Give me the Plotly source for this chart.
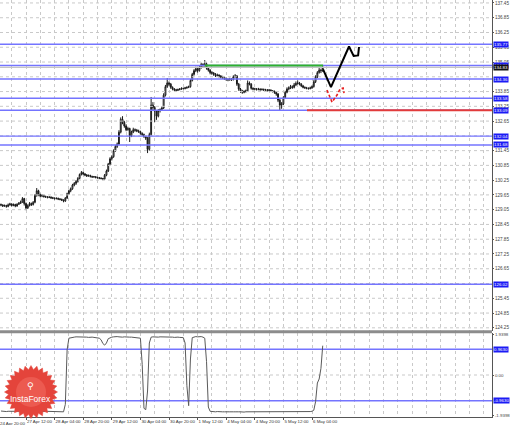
import numpy as np
import plotly.graph_objects as go

# ---------------- data ----------------
bar_index = list(range(2, 183))

opens = [129.26,129.24,129.20,129.22,129.18,129.25,129.28,129.22,129.26,129.20,
         129.27,129.31,129.36,129.50,129.30,129.12,129.22,129.30,129.26,129.35,
         129.62,129.82,129.66,129.60,129.63,129.58,129.57,129.55,129.56,129.53,
         129.52,129.50,129.51,129.48,129.47,129.44,129.40,129.52,129.70,129.82,
         129.90,130.05,130.12,130.20,130.32,130.48,130.56,130.50,130.46,130.42,
         130.44,130.40,130.38,130.39,130.36,130.35,130.33,130.32,130.30,130.45,
         130.62,130.90,131.12,131.20,131.45,131.62,131.72,132.20,132.72,132.60,
         132.45,132.30,132.35,132.05,132.20,132.30,132.28,132.25,132.22,132.15,
         132.10,132.02,131.95,131.50,132.10,133.30,133.20,133.05,132.85,133.08,
         133.12,133.18,133.70,134.05,134.20,134.15,134.02,133.95,133.92,133.90,
         133.93,133.95,133.98,133.97,134.00,134.02,134.05,134.30,134.55,134.70,
         134.78,134.70,134.82,134.95,134.90,134.98,134.80,134.72,134.62,134.60,
         134.55,134.50,134.52,134.48,134.45,134.42,134.38,134.35,134.33,134.36,
         134.34,134.45,134.48,134.15,133.95,133.88,133.82,133.85,133.88,134.20,
         134.15,133.98,133.95,133.96,133.94,133.95,133.93,133.94,133.92,133.92,
         133.90,133.91,133.88,133.86,133.82,133.75,133.50,133.30,133.35,133.60,
         133.82,133.95,134.00,134.05,134.02,134.12,134.18,134.20,134.15,134.08,
         134.02,134.00,133.98,133.97,134.00,134.05,134.25,134.45,134.62,134.72,134.70]
highs = [129.30,129.27,129.26,129.25,129.30,129.33,129.31,129.30,129.29,129.31,
         129.36,129.42,129.56,129.53,129.34,129.27,129.36,129.34,129.40,129.68,
         129.93,129.86,129.70,129.68,129.66,129.62,129.60,129.60,129.59,129.57,
         129.55,129.55,129.54,129.52,129.50,129.47,129.56,129.74,129.86,129.95,
         130.10,130.17,130.25,130.37,130.52,130.62,130.60,130.54,130.50,130.48,
         130.47,130.43,130.42,130.41,130.39,130.38,130.36,130.34,130.50,130.68,
         130.95,131.18,131.26,131.50,131.68,131.78,132.28,132.80,132.85,132.66,
         132.52,132.42,132.38,132.26,132.38,132.35,132.33,132.30,132.26,132.19,
         132.14,132.06,132.00,132.18,133.63,133.42,133.26,133.10,133.14,133.16,
         133.24,133.78,134.12,134.40,134.26,134.20,134.06,133.99,133.96,133.97,
         133.99,134.02,134.01,134.04,134.06,134.09,134.36,134.61,134.76,134.86,
         134.84,134.90,135.02,135.00,135.13,135.03,134.85,134.76,134.68,134.64,
         134.60,134.58,134.55,134.52,134.49,134.46,134.42,134.39,134.41,134.40,
         134.51,134.56,134.52,134.20,134.00,133.92,133.90,133.93,134.30,134.26,
         134.19,134.02,134.00,133.99,134.00,133.98,133.98,133.97,133.96,133.95,
         133.95,133.94,133.91,133.89,133.85,133.79,133.55,133.42,133.66,133.88,
         134.02,134.06,134.12,134.10,134.20,134.26,134.30,134.24,134.19,134.12,
         134.06,134.04,134.02,134.05,134.10,134.31,134.51,134.68,134.85,134.78,134.88]
lows = [129.19,129.16,129.17,129.13,129.15,129.21,129.18,129.19,129.15,129.17,
        129.24,129.28,129.33,129.22,129.03,129.08,129.18,129.20,129.22,129.31,
        129.58,129.60,129.55,129.56,129.54,129.53,129.51,129.52,129.49,129.48,
        129.46,129.47,129.44,129.43,129.40,129.35,129.37,129.49,129.66,129.76,
        129.86,130.00,130.06,130.15,130.28,130.44,130.45,130.41,130.38,130.39,
        130.36,130.34,130.35,130.32,130.31,130.29,130.28,130.25,130.27,130.41,
        130.58,130.86,131.05,131.16,131.40,131.56,131.68,132.15,132.52,132.38,
        132.24,132.26,131.80,132.00,132.16,132.22,132.20,132.17,132.10,132.05,
        131.97,131.88,131.35,131.45,132.05,133.10,132.61,132.70,132.80,133.00,
        133.06,133.14,133.65,134.00,134.08,133.96,133.90,133.87,133.85,133.87,
        133.90,133.92,133.93,133.94,133.96,133.99,134.01,134.26,134.50,134.64,
        134.62,134.66,134.78,134.82,134.86,134.74,134.66,134.55,134.54,134.49,
        134.44,134.46,134.42,134.39,134.36,134.32,134.29,134.27,134.29,134.28,
        134.30,134.41,134.08,133.88,133.80,133.76,133.78,133.81,133.84,134.10,
        133.93,133.90,133.91,133.89,133.90,133.88,133.89,133.87,133.88,133.85,
        133.86,133.83,133.81,133.76,133.68,133.42,133.09,133.15,133.30,133.55,
        133.78,133.90,133.95,133.96,133.98,134.07,134.13,134.10,134.03,133.98,
        133.96,133.94,133.93,133.94,133.96,134.01,134.20,134.40,134.58,134.60,134.65]
closes = [129.24,129.20,129.22,129.18,129.25,129.28,129.22,129.26,129.20,129.27,
          129.31,129.36,129.50,129.30,129.12,129.22,129.30,129.26,129.35,129.62,
          129.82,129.66,129.60,129.63,129.58,129.57,129.55,129.56,129.53,129.52,
          129.50,129.51,129.48,129.47,129.44,129.40,129.52,129.70,129.82,129.90,
          130.05,130.12,130.20,130.32,130.48,130.56,130.50,130.46,130.42,130.44,
          130.40,130.38,130.39,130.36,130.35,130.33,130.32,130.30,130.45,130.62,
          130.90,131.12,131.20,131.45,131.62,131.72,132.20,132.72,132.60,132.45,
          132.30,132.35,132.05,132.20,132.30,132.28,132.25,132.22,132.15,132.10,
          132.02,131.95,131.50,132.10,133.30,133.20,133.05,132.85,133.08,133.12,
          133.18,133.70,134.05,134.20,134.15,134.02,133.95,133.92,133.90,133.93,
          133.95,133.98,133.97,134.00,134.02,134.05,134.30,134.55,134.70,134.78,
          134.70,134.82,134.95,134.90,134.98,134.80,134.72,134.62,134.60,134.55,
          134.50,134.52,134.48,134.45,134.42,134.38,134.35,134.33,134.36,134.34,
          134.45,134.48,134.15,133.95,133.88,133.82,133.85,133.88,134.20,134.15,
          133.98,133.95,133.96,133.94,133.95,133.93,133.94,133.92,133.92,133.90,
          133.91,133.88,133.86,133.82,133.75,133.50,133.30,133.35,133.60,133.82,
          133.95,134.00,134.05,134.02,134.12,134.18,134.20,134.15,134.08,134.02,
          134.00,133.98,133.97,134.00,134.05,134.25,134.45,134.62,134.72,134.70,134.83]

indicator = [-1.35,-1.36,-1.36,-1.37,-1.36,-1.36,-1.37,-1.37,-1.36,-1.36,
             -1.37,-1.36,-1.35,-1.36,-1.38,-1.37,-1.36,-1.36,-1.36,-1.35,
             -1.34,-1.35,-1.36,-1.36,-1.37,-1.36,-1.36,-1.37,-1.37,-1.36,
             -1.37,-1.37,-1.38,-1.37,-1.37,-1.38,
             -1.10, 0.95, 1.38,
             1.40,1.41,1.42,1.43,1.43,1.44,1.43,1.42,1.42,1.42,1.41,1.42,1.42,1.41,1.40,1.40,1.38,
             1.32,1.18,1.12,1.20,1.36,
             1.40,1.42,1.43,1.44,1.44,1.43,1.42,1.42,1.43,1.42,1.41,1.42,1.42,1.41,1.41,1.40,1.40,1.38,
             0.40,-1.25,-1.30,-0.60,1.20,
             1.42,1.43,1.42,1.41,1.42,1.43,1.43,1.42,1.44,1.44,1.43,1.42,1.42,1.41,1.42,1.42,1.41,1.41,1.40,
             1.20,-0.40,-1.15,0.60,
             1.40,1.43,1.44,1.43,1.44,1.44,1.42,
             1.38,0.50,-1.20,
             -1.36,-1.37,-1.38,-1.38,-1.37,-1.38,-1.39,-1.38,-1.38,-1.37,
             -1.38,-1.38,-1.39,-1.38,-1.38,-1.37,-1.38,-1.38,-1.39,-1.39,
             -1.38,-1.38,-1.37,-1.38,-1.38,-1.38,-1.39,-1.38,-1.38,-1.38,
             -1.37,-1.38,-1.38,-1.39,-1.39,-1.38,-1.38,-1.38,-1.37,-1.38,
             -1.38,-1.38,-1.39,-1.38,-1.38,-1.38,-1.37,-1.38,-1.38,-1.38,
             -1.38,-1.39,-1.38,-1.38,-1.38,-1.37,-1.37,-1.36,
             -1.32,-1.00,-0.30,-0.15,0.25,1.10]

price_ticks = [137.45, 136.85, 136.25, 135.65, 135.05, 133.85, 133.25,
               132.65, 131.45, 130.85, 130.25, 129.65, 129.05, 128.45,
               127.85, 127.25, 126.65, 125.45, 124.85, 124.25]
price_tick_text = ["137.45", "136.85", "136.25", "135.65", "135.05", "133.85", "133.25",
                   "132.65", "131.45", "130.85", "130.25", "129.65", "129.05", "128.45",
                   "127.85", "127.25", "126.65", "125.45", "124.85", "124.25"]
price_grid = [137.45, 136.85, 136.25, 135.65, 135.05, 134.45, 133.85, 133.25,
              132.65, 132.05, 131.45, 130.85, 130.25, 129.65, 129.05, 128.45,
              127.85, 127.25, 126.65, 126.05, 125.45, 124.85, 124.25]

time_tick_bars = [0, 16, 32, 48, 64, 80, 96, 112, 128, 144, 160, 176]
time_tick_text = ["24 Apr 20:00", "27 Apr 12:00", "28 Apr 04:00", "28 Apr 20:00", "29 Apr 12:00",
                  "30 Apr 04:00", "30 Apr 20:00", "1 May 12:00", "4 May 04:00", "4 May 20:00",
                  "5 May 12:00", "6 May 04:00"]

level_values = [135.77, 134.91, 134.36, 133.58, 133.09, 132.04, 131.68, 126.02]
level_text = ["135.77", "134.91", "134.36", "133.58", "133.09", "132.04", "131.68", "126.02"]
bid_value = 134.83
bid_text = "134.83"

green_x = [116, 182.2]
green_y = [134.91, 134.91]
red_x = [173.2, 276.7]
red_y = [133.09, 133.09]
black_path_x = [182.2, 186.6, 196.7, 199.3, 201.8, 202.3]
black_path_y = [134.75, 134.03, 135.68, 135.30, 135.32, 135.66]
red_path_x = [184.4, 187.2, 190.0, 191.7, 193.4, 193.9]
red_path_y = [133.91, 133.42, 133.71, 133.95, 133.99, 133.79]

ind_levels = [0.963, -0.963]
ind_level_text = ["0.9630", "-0.9630"]
ind_ticks = [1.52, 0.0, -1.52]
ind_tick_text = ["1.9398", "0.00", "-1.9398"]

assert len(opens) == len(highs) == len(lows) == len(closes) == len(bar_index) == len(indicator)

# ---------------- figure ----------------
X_RANGE = [1.45, 276.7]
Y_RANGE = [124.12, 137.57]
Y2_RANGE = [-1.574, 1.574]
MAIN_BOTTOM = 0.2062
IND_TOP = 0.2014
BLUE = "#7474ff"
BOX = "#1b1bf5"
GRID = "#c9c9c9"
FONT = "Liberation Sans"
PW, PH = 492.0, 417.0

fig = go.Figure()

for v in price_grid:
    fig.add_trace(go.Scatter(x=X_RANGE, y=[v, v], mode="lines",
                             line=dict(color=GRID, width=1, dash="dot"), hoverinfo="skip",
                             xaxis="x", yaxis="y"))

for v in level_values:
    fig.add_trace(go.Scatter(x=X_RANGE, y=[v, v], mode="lines",
                             line=dict(color=BLUE, width=1.4), hoverinfo="skip",
                             xaxis="x", yaxis="y"))
fig.add_trace(go.Scatter(x=X_RANGE, y=[bid_value, bid_value], mode="lines",
                         line=dict(color="#c4c4c4", width=1.2), hoverinfo="skip"))

fig.add_trace(go.Candlestick(
    x=bar_index, open=opens, high=highs, low=lows, close=closes,
    increasing=dict(line=dict(color="#1a1a1a", width=1), fillcolor="#ffffff"),
    decreasing=dict(line=dict(color="#1a1a1a", width=1), fillcolor="#1a1a1a"),
    whiskerwidth=0, xaxis="x", yaxis="y", hoverinfo="skip"))

fig.add_trace(go.Scatter(x=green_x, y=green_y, mode="lines",
                         line=dict(color="#2fb02f", width=2), hoverinfo="skip"))
fig.add_trace(go.Scatter(x=red_x, y=red_y, mode="lines",
                         line=dict(color="#e23b3b", width=2), hoverinfo="skip"))
fig.add_trace(go.Scatter(x=black_path_x, y=black_path_y, mode="lines",
                         line=dict(color="#000000", width=2), hoverinfo="skip"))
fig.add_trace(go.Scatter(x=red_path_x, y=red_path_y, mode="lines",
                         line=dict(color="#e82020", width=1.6, dash="3px,2px"), hoverinfo="skip"))

for v in ind_levels:
    fig.add_trace(go.Scatter(x=X_RANGE, y=[v, v], mode="lines",
                             line=dict(color=BLUE, width=1.4), hoverinfo="skip",
                             xaxis="x2", yaxis="y2"))
fig.add_trace(go.Scatter(x=X_RANGE, y=[0, 0], mode="lines",
                         line=dict(color=GRID, width=1, dash="dot"), hoverinfo="skip",
                         xaxis="x2", yaxis="y2"))
fig.add_trace(go.Scatter(x=bar_index, y=indicator, mode="lines",
                         line=dict(color="#5a5a5a", width=1), hoverinfo="skip",
                         xaxis="x2", yaxis="y2"))

fig.update_layout(
    width=510, height=425,
    margin=dict(l=0, r=18, t=0, b=8, autoexpand=False),
    paper_bgcolor="white", plot_bgcolor="white",
    showlegend=False,
    font=dict(family=FONT, size=5, color="#333333"),
    xaxis=dict(domain=[0, 1], range=X_RANGE, anchor="y", automargin=False,
               tickvals=time_tick_bars, showticklabels=False, ticks="",
               showgrid=True, gridcolor=GRID, griddash="dot", gridwidth=1,
               minor=dict(dtick=8, tick0=0, showgrid=True, gridcolor=GRID, griddash="dot"),
               zeroline=False, showline=False, rangeslider=dict(visible=False)),
    yaxis=dict(domain=[MAIN_BOTTOM, 1], range=Y_RANGE, side="right", anchor="x",
               automargin=False,
               tickvals=price_ticks, ticktext=price_tick_text,
               ticks="outside", ticklen=1, tickcolor="#555555",
               showgrid=False,
               zeroline=False, showline=True, linecolor="#555555", linewidth=1,
               tickfont=dict(size=4.6, color="#444444")),
    xaxis2=dict(domain=[0, 1], range=X_RANGE, anchor="y2", matches="x", automargin=False,
                tickvals=time_tick_bars, ticktext=time_tick_text, tickangle=0,
                ticklabelposition="outside right",
                ticks="outside", ticklen=2, tickcolor="#555555",
                showgrid=True, gridcolor=GRID, griddash="dot",
                minor=dict(dtick=8, tick0=0, showgrid=True, gridcolor=GRID, griddash="dot"),
                zeroline=False, showline=True, linecolor="#555555", linewidth=1,
                tickfont=dict(size=4.4, color="#333333")),
    yaxis2=dict(domain=[0, IND_TOP], range=Y2_RANGE, side="right", anchor="x2",
                automargin=False,
                tickvals=ind_ticks, ticktext=ind_tick_text,
                ticks="outside", ticklen=1, tickcolor="#555555",
                showgrid=False, zeroline=False,
                showline=True, linecolor="#555555", linewidth=1,
                tickfont=dict(size=4.4, color="#444444")),
)

fig.add_shape(type="line", xref="paper", yref="paper", x0=0, x1=1,
              y0=MAIN_BOTTOM - 0.002, y1=MAIN_BOTTOM - 0.002,
              line=dict(color="#8c8c8c", width=3))

# first time label: its bar lies just left of the plot, so the label is partly cut (as in the reference)
first_label_px = (time_tick_bars[0] - X_RANGE[0]) / (X_RANGE[1] - X_RANGE[0]) * PW
fig.add_annotation(x=0, xref="paper", y=0, yref="paper", text=time_tick_text[0],
                   showarrow=False, xanchor="left", yanchor="top",
                   xshift=first_label_px + 1, yshift=-2,
                   font=dict(size=4.4, color="#333333", family=FONT))

for v, t in zip(level_values, level_text):
    fig.add_annotation(x=1, xref="paper", y=v, yref="y", text=t, showarrow=False,
                       xanchor="left", xshift=1, bgcolor=BOX, borderpad=0,
                       font=dict(size=4.4, color="white", family=FONT))
fig.add_annotation(x=1, xref="paper", y=bid_value, yref="y", text=bid_text, showarrow=False,
                   xanchor="left", xshift=1, bgcolor="#111111", borderpad=0,
                   font=dict(size=4.4, color="white", family=FONT))
for v, t in zip(ind_levels, ind_level_text):
    fig.add_annotation(x=1, xref="paper", y=v, yref="y2", text=t, showarrow=False,
                       xanchor="left", xshift=1, bgcolor=BOX, borderpad=0,
                       font=dict(size=4.4, color="white", family=FONT))

# InstaForex starburst logo (decoration)
cx, cy = 31.0, 392.0
n_spikes = 28
ang = np.linspace(0, 2 * np.pi, 2 * n_spikes, endpoint=False)
rad = np.where(np.arange(2 * n_spikes) % 2 == 0, 26.5, 22.5)
px = cx + rad * np.cos(ang)
py = cy + rad * np.sin(ang)
path = "M " + " L ".join(f"{x / PW:.5f},{1 - y / PH:.5f}" for x, y in zip(px, py)) + " Z"
fig.add_shape(type="path", path=path, xref="paper", yref="paper",
              fillcolor="#e4443b", line=dict(color="#e4443b", width=0.5), layer="above")
fig.add_shape(type="circle", xref="paper", yref="paper",
              x0=(cx - 15) / PW, x1=(cx + 15) / PW, y0=1 - (cy + 15) / PH, y1=1 - (cy - 15) / PH,
              fillcolor="#ec5a50", line=dict(width=0), layer="above")
fig.add_annotation(x=cx / PW, y=1 - 399 / PH, xref="paper", yref="paper", text="InstaForex",
                   showarrow=False, xanchor="center", yanchor="middle",
                   font=dict(size=8.5, color="white", family=FONT))
fig.add_annotation(x=cx / PW, y=1 - 386 / PH, xref="paper", yref="paper", text="⚲",
                   showarrow=False, xanchor="center", yanchor="middle",
                   font=dict(size=9, color="white", family="DejaVu Sans"))

fig.write_html(
    "out.html",
    config={"displayModeBar": False},
    post_script="document.body.style.margin='0';document.body.style.padding='0';"
                "document.body.style.overflow='hidden';",
)
